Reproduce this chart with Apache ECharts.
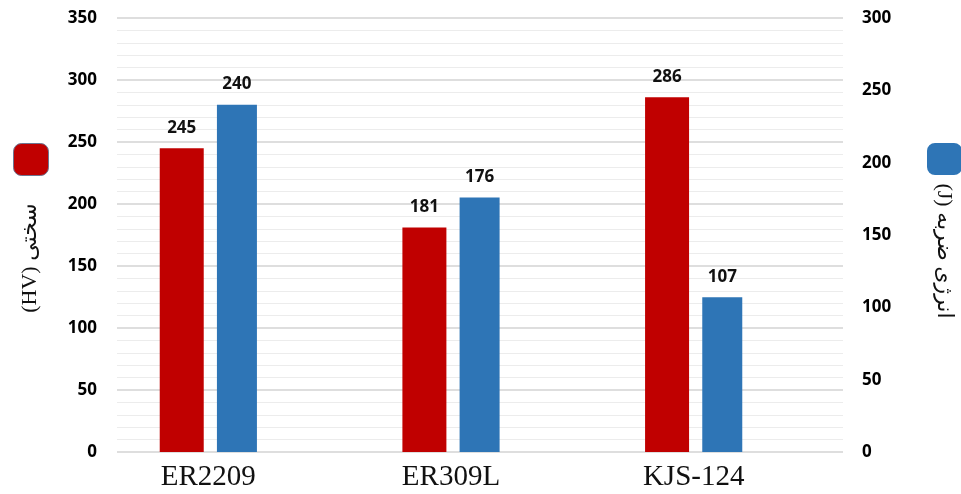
<!DOCTYPE html>
<html>
<head>
<meta charset="utf-8">
<script src="https://cdn.jsdelivr.net/npm/echarts@6/dist/echarts.min.js"></script>
<style>html,body{margin:0;padding:0;background:#fff;}#c{width:961px;height:494px;}</style>
</head>
<body>
<div id="c"></div>
<script>
const categories = ['ER2209', 'ER309L', 'KJS-124'];
const hardness = [245, 181, 286];
const impact = [240, 176, 107];
const leftTicks = { min: 0, max: 350, interval: 50 };
const rightTicks = { min: 0, max: 300, interval: 50 };
const hardnessName = 'سختی (HV)';
const impactName = 'انرژی ضربه (J)';
const rtl = s => '\u202B' + s + '\u202C';

const tickFont = { fontFamily: 'Open Sans', fontWeight: 'bold', fontSize: 17, color: '#000' };
const chart = echarts.init(document.getElementById('c'), null, { renderer: 'canvas' });
chart.setOption({
  animation: false,
  backgroundColor: '#fff',
  grid: [
    { left: 117, right: 118, top: 18, bottom: 42 },
    { left: 87, right: 146, top: 18, bottom: 42 }
  ],
  legend: [
    { data: [hardnessName], left: 13, top: 143, padding: 0, itemWidth: 35, itemHeight: 32, icon: 'roundRect',
      formatter: () => '', itemStyle: { borderColor: '#6b7591', borderWidth: 1 }, selectedMode: false },
    { data: [impactName], left: 927, top: 143, padding: 0, itemWidth: 35, itemHeight: 32, icon: 'roundRect',
      formatter: () => '', selectedMode: false }
  ],
  xAxis: [
    { gridIndex: 0, type: 'category', data: [''], show: false },
    { gridIndex: 1, type: 'category', data: categories,
      axisLine: { show: false }, axisTick: { show: false },
      axisLabel: { fontFamily: 'Liberation Serif', fontSize: 29, color: '#111', margin: 11 } }
  ],
  yAxis: [
    { gridIndex: 0, type: 'value', position: 'left', min: leftTicks.min, max: leftTicks.max, interval: leftTicks.interval,
      axisLine: { show: false }, axisTick: { show: false },
      axisLabel: Object.assign({ margin: 20 }, tickFont),
      splitLine: { show: true, lineStyle: { color: '#d3d3d3', width: 1.5 } },
      minorTick: { show: false, splitNumber: 5 },
      minorSplitLine: { show: true, lineStyle: { color: '#ececec', width: 1 } } },
    { gridIndex: 0, type: 'value', position: 'right', min: rightTicks.min, max: rightTicks.max, interval: rightTicks.interval,
      axisLine: { show: false }, axisTick: { show: false },
      axisLabel: Object.assign({ margin: 19 }, tickFont),
      splitLine: { show: false } },
    { gridIndex: 1, type: 'value', min: leftTicks.min, max: leftTicks.max, show: false, splitLine: { show: false } },
    { gridIndex: 1, type: 'value', min: rightTicks.min, max: rightTicks.max, show: false, splitLine: { show: false } }
  ],
  series: [
    { name: hardnessName, type: 'bar', xAxisIndex: 1, yAxisIndex: 2, data: hardness, barWidth: 44, barGap: '30%',
      itemStyle: { color: '#c00000' },
      label: { show: true, position: 'top', distance: 12, fontFamily: 'Open Sans', fontWeight: 'bold', fontSize: 17, color: '#111' } },
    { name: impactName, type: 'bar', xAxisIndex: 1, yAxisIndex: 3, data: impact, barWidth: 40, barGap: '30%',
      itemStyle: { color: '#2e75b6' },
      label: { show: true, position: 'top', distance: 12, fontFamily: 'Open Sans', fontWeight: 'bold', fontSize: 17, color: '#111' } }
  ],
  graphic: [
    { type: 'text', x: 30, y: 258, rotation: Math.PI / 2,
      style: { text: rtl(hardnessName), fontFamily: 'Liberation Serif, DejaVu Serif, DejaVu Sans', fontSize: 22, fill: '#111',
        align: 'center', verticalAlign: 'middle' } },
    { type: 'text', x: 944, y: 251, rotation: -Math.PI / 2,
      style: { text: rtl(impactName), fontFamily: 'Liberation Serif, DejaVu Serif, DejaVu Sans', fontSize: 22, fill: '#111',
        align: 'center', verticalAlign: 'middle' } }
  ]
});
</script>
</body>
</html>
